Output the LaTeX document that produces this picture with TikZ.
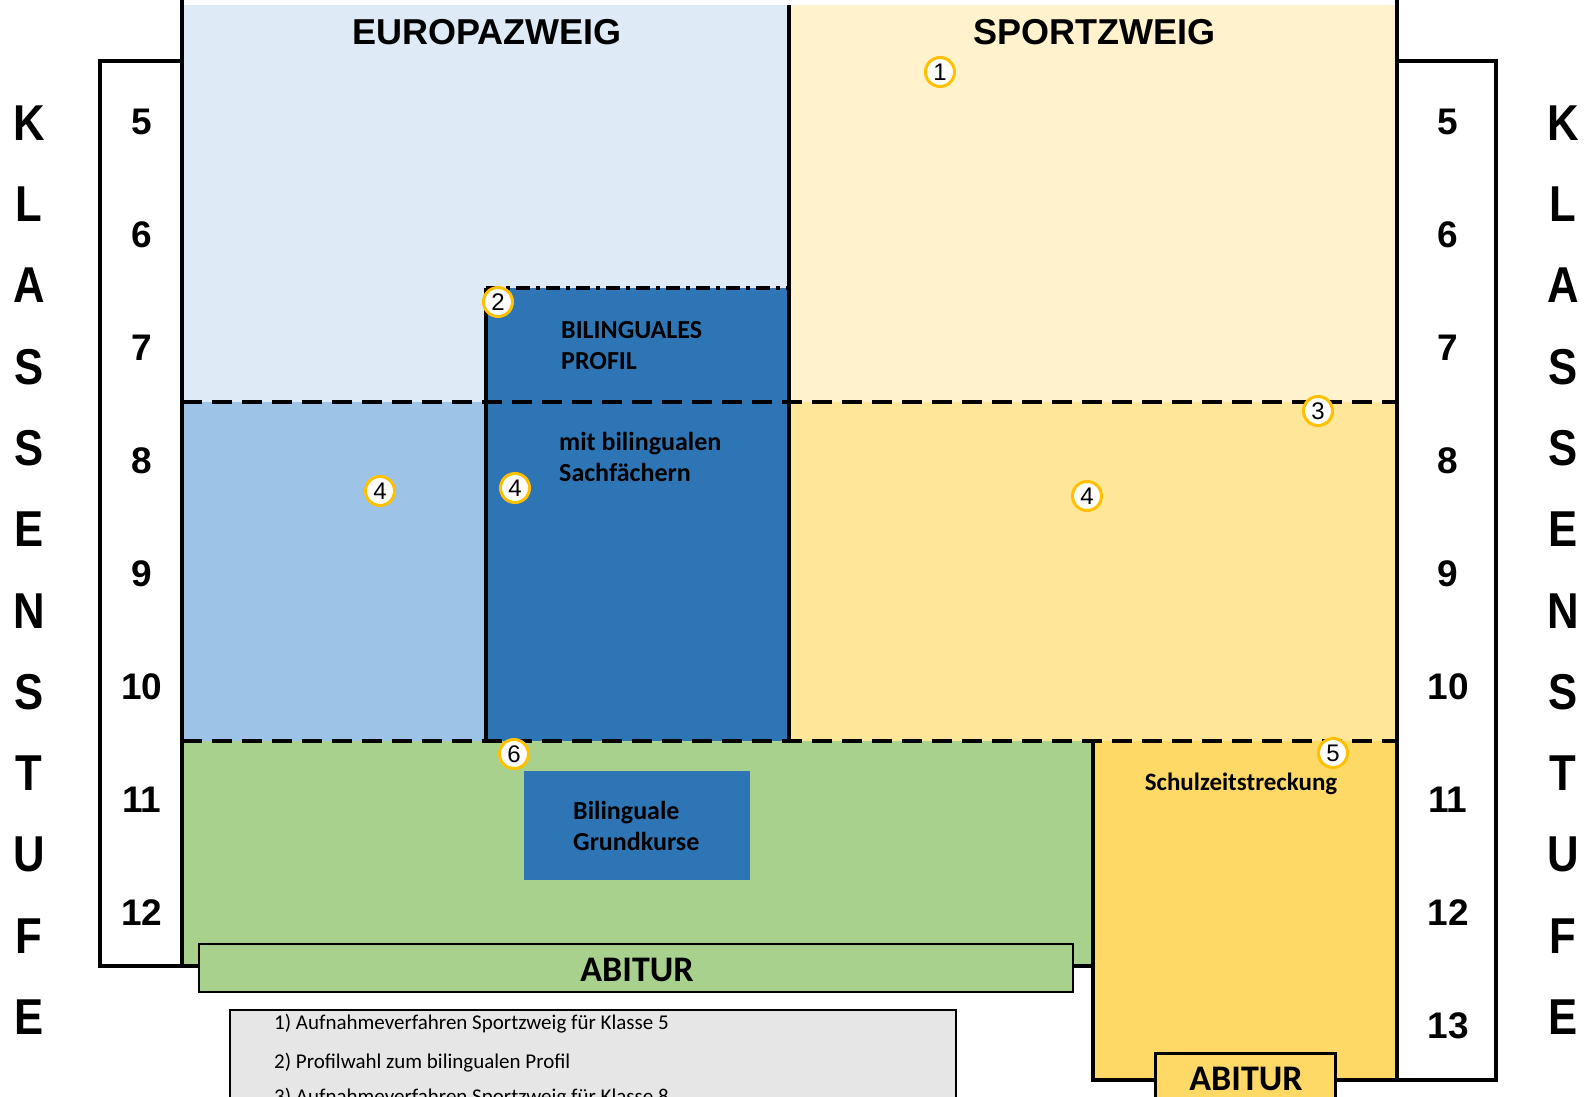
\documentclass[tikz,border=0pt]{standalone}
\usepackage{fontspec}
\usepackage{graphicx}
\setmainfont{Carlito}
\newfontfamily\arial{Liberation Sans}
\definecolor{lightblue}{HTML}{DEEBF7}
\definecolor{midblue}{HTML}{9DC3E6}
\definecolor{darkblue}{HTML}{2E75B6}
\definecolor{lightyellow}{HTML}{FFF2CC}
\definecolor{midyellow}{HTML}{FFE699}
\definecolor{darkyellow}{HTML}{FFD966}
\definecolor{greenfill}{HTML}{A9D18E}
\definecolor{ringyellow}{HTML}{FFC000}
\definecolor{legendgray}{HTML}{E7E6E6}
\newcommand\tallletter[1]{\scalebox{1.04}[1.2]{#1}}
\begin{document}
\begin{tikzpicture}[x=1pt,y=-1pt,
  thickline/.style={line width=4pt},
  dashline/.style={line width=4pt, dash pattern=on 20pt off 10pt},
  dashdotline/.style={line width=4pt, dash pattern=on 14pt off 6pt on 4pt off 6pt},
  numcirc/.style={circle, draw=ringyellow, line width=3pt, fill=white, minimum size=29pt, inner sep=0pt, font=\arial\fontsize{24}{24}\selectfont},
  digitlbl/.style={inner sep=0pt, font=\arial\bfseries\fontsize{37}{37}\selectfont},
  letterlbl/.style={inner sep=0pt, font=\arial\bfseries\fontsize{42}{42}\selectfont},
  titlelbl/.style={inner sep=0pt, anchor=base, font=\arial\bfseries\fontsize{36}{36}\selectfont},
  bodytxt/.style={inner sep=0pt, anchor=base west, font=\bfseries\fontsize{26}{31}\selectfont},
  abiturtxt/.style={inner sep=0pt, anchor=base, font=\bfseries\fontsize{36}{36}\selectfont},
  legendtxt/.style={inner sep=0pt, anchor=base west, font=\fontsize{21}{25}\selectfont}
]
\useasboundingbox (0,0) rectangle (1595,1097);
\clip (0,0) rectangle (1595,1097);
\fill[white] (0,0) rectangle (1595,1097);

% region fills
\fill[lightblue] (182,5) rectangle (789,402);
\fill[lightyellow] (789,5) rectangle (1397,402);
\fill[midblue] (182,402) rectangle (486,741);
\fill[darkblue] (486,288) rectangle (789,741);
\fill[midyellow] (789,402) rectangle (1397,741);
\fill[greenfill] (182,741) rectangle (1093,966);
\fill[darkyellow] (1093,741) rectangle (1397,1080);
\fill[darkblue] (524,771) rectangle (750,880);

% solid outlines
\draw[thickline] (182,0) -- (182,966) -- (1093,966);
\draw[thickline] (789,5) -- (789,741);
\draw[thickline] (486,288) -- (486,741);
\draw[thickline] (1093,741) -- (1093,1080) -- (1397,1080);
\draw[thickline] (1397,0) -- (1397,1080);
\draw[thickline] (182,61) -- (100,61) -- (100,966) -- (182,966);
\draw[thickline] (1397,61) -- (1496,61) -- (1496,1080) -- (1397,1080);

% dashed separators
\draw[dashline] (182,402) -- (1397,402);
\draw[dashline] (182,741) -- (1397,741);
\draw[dashdotline] (486,288) -- (789,288);

% Abitur bars and legend
\draw[line width=2pt, fill=greenfill] (199,944) rectangle (1073,992);
\draw[line width=3pt, fill=darkyellow] (1155,1053) rectangle (1335,1110);
\draw[line width=2pt, fill=legendgray] (230,1010) rectangle (956,1120);

% titles
\node[titlelbl] (euro) at (487,45) {EUROPAZWEIG};
\node[titlelbl] (sport) at (1094,45) {SPORTZWEIG};

% class numbers
\foreach \d [count=\i from 0] in {5,6,7,8,9,10,11,12} {
  \node[digitlbl] (ld\d) at (142,{121.7+113*\i}) {\d};
}
\foreach \d [count=\i from 0] in {5,6,7,8,9,10,11,12,13} {
  \node[digitlbl] (rd\d) at (1448,{121.7+113*\i}) {\d};
}

% KLASSENSTUFE
\foreach \ch [count=\i from 0] in {K,L,A,S,S,E,N,S,T,U,F,E} {
  \node[letterlbl] (ll\i) at (29,{123+81.3*\i}) {\tallletter{\ch}};
  \node[letterlbl] (rl\i) at (1563,{123+81.3*\i}) {\tallletter{\ch}};
}

% body texts
\node[bodytxt] (bil1) at (561,338) {BILINGUALES};
\node[bodytxt] (bil2) at (561,369) {PROFIL};
\node[bodytxt] (mit1) at (559,450) {mit bilingualen};
\node[bodytxt] (mit2) at (559,481) {Sachfächern};
\node[bodytxt] (gk1) at (573,819) {Bilinguale};
\node[bodytxt] (gk2) at (573,850) {Grundkurse};
\node[inner sep=0pt, anchor=base, font=\bfseries\fontsize{25}{25}\selectfont] (szs) at (1241,790) {Schulzeitstreckung};
\node[abiturtxt] (abi1) at (637,981) {ABITUR};
\node[abiturtxt] (abi2) at (1246,1090) {ABITUR};

% legend
\node[legendtxt] (leg1) at (274,1029) {1) Aufnahmeverfahren Sportzweig für Klasse 5};
\node[legendtxt] (leg2) at (274,1068) {2) Profilwahl zum bilingualen Profil};
\node[legendtxt] (leg3) at (274,1103) {3) Aufnahmeverfahren Sportzweig für Klasse 8};

% numbered circles
\node[numcirc] (c1) at (940,72) {1};
\node[numcirc] (c2) at (498,302) {2};
\node[numcirc] (c3) at (1318,411) {3};
\node[numcirc] (c4a) at (380,491) {4};
\node[numcirc] (c4b) at (515,488) {4};
\node[numcirc] (c4c) at (1087,496) {4};
\node[numcirc] (c5) at (1333,753) {5};
\node[numcirc] (c6) at (514,754) {6};
\end{tikzpicture}
\end{document}
